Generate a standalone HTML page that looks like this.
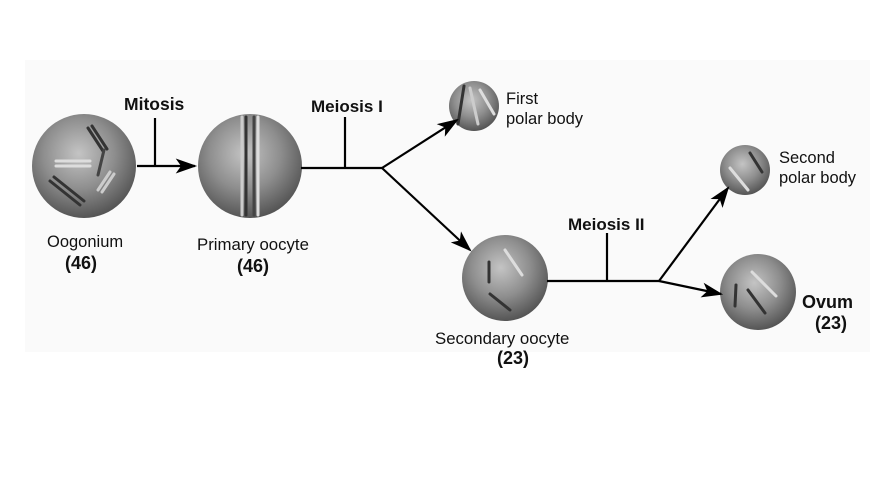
<!DOCTYPE html>
<html><head><style>
html,body{margin:0;padding:0;background:#fff;}
svg{display:block;}
text{font-family:"Liberation Sans",sans-serif;fill:#111;}
</style></head><body>
<svg width="874" height="489" viewBox="0 0 874 489">
<defs>
<radialGradient id="cg" cx="0.45" cy="0.38" r="0.62">
<stop offset="0" stop-color="#c4c4c4"/>
<stop offset="0.55" stop-color="#8e8e8e"/>
<stop offset="1" stop-color="#555"/>
</radialGradient>
<marker id="ah" viewBox="0 0 20 14" refX="18" refY="7" markerWidth="22" markerHeight="15" markerUnits="userSpaceOnUse" orient="auto">
<path d="M0,0 L20,7 L0,14 L5,7 Z" fill="#000"/>
</marker>
</defs>
<rect x="25" y="60" width="845" height="292" fill="#fafafa"/>
<circle cx="84" cy="166" r="52" fill="url(#cg)"/>
<circle cx="250" cy="166" r="52" fill="url(#cg)"/>
<circle cx="474" cy="106" r="25" fill="url(#cg)"/>
<circle cx="505" cy="278" r="43" fill="url(#cg)"/>
<circle cx="745" cy="170" r="25" fill="url(#cg)"/>
<circle cx="758" cy="292" r="38" fill="url(#cg)"/>
<g stroke-linecap="round" stroke-width="3">
<line x1="88" y1="128" x2="103" y2="151" stroke="#333"/>
<line x1="92" y1="126" x2="107" y2="149" stroke="#333"/>
<line x1="56" y1="166" x2="90" y2="166" stroke="#ddd"/>
<line x1="56" y1="161" x2="90" y2="161" stroke="#ddd"/>
<line x1="50" y1="181" x2="80" y2="205" stroke="#333"/>
<line x1="54" y1="177" x2="84" y2="201" stroke="#333"/>
<line x1="98" y1="190" x2="110" y2="172" stroke="#ccc"/>
<line x1="102" y1="192" x2="114" y2="174" stroke="#ccc"/>
<line x1="104" y1="150" x2="98" y2="175" stroke="#444"/>
<line x1="242" y1="117" x2="242" y2="215" stroke="#ccc"/>
<line x1="246" y1="117" x2="246" y2="215" stroke="#333"/>
<line x1="254" y1="117" x2="254" y2="215" stroke="#444"/>
<line x1="258" y1="117" x2="258" y2="215" stroke="#ddd"/>
<line x1="464" y1="86" x2="458" y2="124" stroke="#333"/>
<line x1="470" y1="88" x2="478" y2="124" stroke="#ccc"/>
<line x1="480" y1="90" x2="494" y2="114" stroke="#ddd"/>
<line x1="489" y1="262" x2="489" y2="282" stroke="#333"/>
<line x1="505" y1="250" x2="522" y2="275" stroke="#ddd"/>
<line x1="490" y1="294" x2="510" y2="310" stroke="#333"/>
<line x1="750" y1="153" x2="762" y2="172" stroke="#333"/>
<line x1="730" y1="168" x2="748" y2="190" stroke="#ddd"/>
<line x1="735" y1="306" x2="736" y2="285" stroke="#333"/>
<line x1="748" y1="290" x2="765" y2="313" stroke="#333"/>
<line x1="752" y1="272" x2="776" y2="296" stroke="#ddd"/>
</g>
<g stroke="#000" stroke-width="2.2" fill="none">
<line x1="137" y1="166" x2="195" y2="166" marker-end="url(#ah)"/>
<line x1="155" y1="118" x2="155" y2="166"/>
<line x1="301" y1="168" x2="382" y2="168"/>
<line x1="345" y1="117" x2="345" y2="168"/>
<line x1="382" y1="168" x2="457" y2="120" marker-end="url(#ah)"/>
<line x1="382" y1="168" x2="470" y2="250" marker-end="url(#ah)"/>
<line x1="547" y1="281" x2="659" y2="281"/>
<line x1="607" y1="233" x2="607" y2="281"/>
<line x1="659" y1="281" x2="728" y2="188" marker-end="url(#ah)"/>
<line x1="659" y1="281" x2="721" y2="294" marker-end="url(#ah)"/>
</g>
<text x="124" y="110" font-size="17.5" font-weight="bold">Mitosis</text>
<text x="311" y="112" font-size="17" font-weight="bold">Meiosis I</text>
<text x="568" y="230" font-size="17" font-weight="bold">Meiosis II</text>
<text x="47" y="247" font-size="16.5">Oogonium</text>
<text x="65" y="269" font-size="18" font-weight="bold">(46)</text>
<text x="197" y="250" font-size="16.8">Primary oocyte</text>
<text x="237" y="272" font-size="18" font-weight="bold">(46)</text>
<text x="506" y="104" font-size="16.5">First</text>
<text x="506" y="124" font-size="16.5">polar body</text>
<text x="779" y="163" font-size="16.5">Second</text>
<text x="779" y="183" font-size="16.5">polar body</text>
<text x="802" y="308" font-size="18" font-weight="bold">Ovum</text>
<text x="815" y="329" font-size="18" font-weight="bold">(23)</text>
<text x="435" y="344" font-size="16.8">Secondary oocyte</text>
<text x="497" y="364" font-size="18" font-weight="bold">(23)</text>
</svg>
</body></html>
